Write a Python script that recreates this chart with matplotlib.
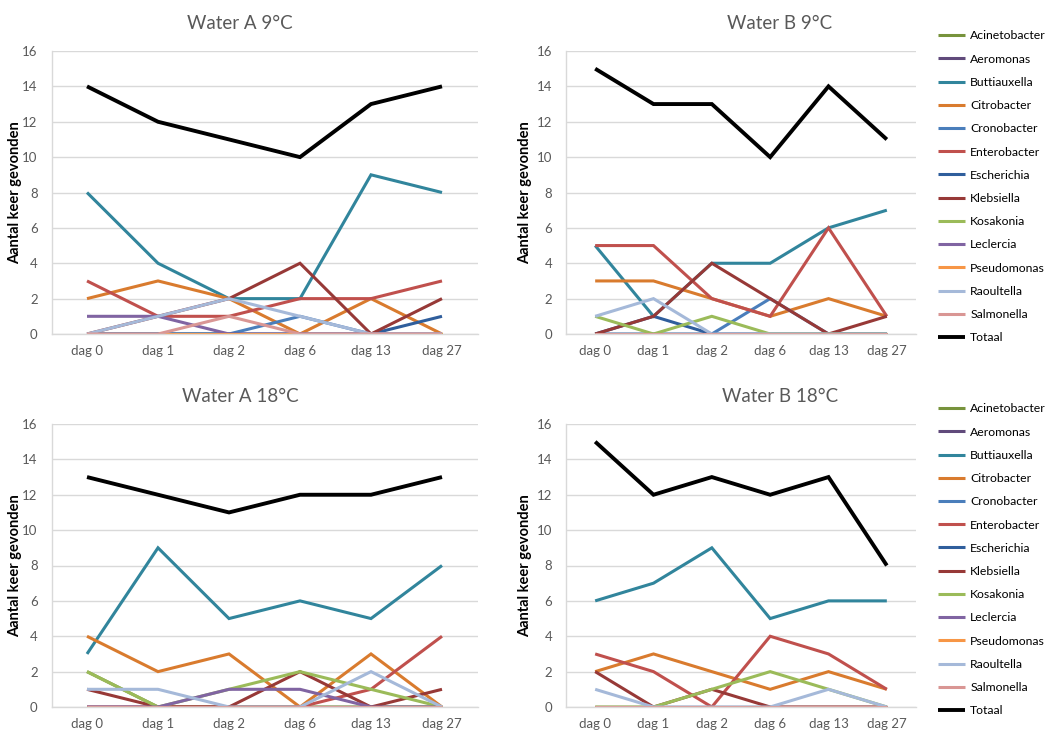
import matplotlib.pyplot as plt

plt.rcParams['font.family'] = ['Lato', 'DejaVu Sans']

days = ["dag 0", "dag 1", "dag 2", "dag 6", "dag 13", "dag 27"]

species = ["Acinetobacter", "Aeromonas", "Buttiauxella", "Citrobacter",
           "Cronobacter", "Enterobacter", "Escherichia", "Klebsiella",
           "Kosakonia", "Leclercia", "Pseudomonas", "Raoultella",
           "Salmonella", "Totaal"]

colors = ["#77933C", "#604A7B", "#31859C", "#D97B2E", "#4A7EBB", "#C0504D",
          "#2F5E9C", "#973937", "#9BBB59", "#8064A2", "#F79646", "#A5B9D9",
          "#D99694", "#000000"]

# counts per species (same order as `species`), one row per species
water_a_9 = [
    [0, 0, 0, 0, 0, 0],
    [0, 0, 0, 0, 0, 0],
    [8, 4, 2, 2, 9, 8],
    [2, 3, 2, 0, 2, 0],
    [0, 0, 0, 1, 0, 0],
    [3, 1, 1, 2, 2, 3],
    [0, 0, 0, 0, 0, 1],
    [0, 1, 2, 4, 0, 2],
    [0, 0, 0, 0, 0, 0],
    [1, 1, 0, 0, 0, 0],
    [0, 0, 0, 0, 0, 0],
    [0, 1, 2, 1, 0, 0],
    [0, 0, 1, 0, 0, 0],
    [14, 12, 11, 10, 13, 14],
]

water_b_9 = [
    [0, 0, 0, 0, 0, 0],
    [0, 0, 0, 0, 0, 0],
    [5, 1, 4, 4, 6, 7],
    [3, 3, 2, 1, 2, 1],
    [0, 0, 0, 2, 0, 0],
    [5, 5, 2, 1, 6, 1],
    [0, 1, 0, 0, 0, 0],
    [0, 1, 4, 2, 0, 1],
    [1, 0, 1, 0, 0, 0],
    [0, 0, 0, 0, 0, 0],
    [0, 0, 0, 0, 0, 0],
    [1, 2, 0, 0, 0, 0],
    [0, 0, 0, 0, 0, 0],
    [15, 13, 13, 10, 14, 11],
]

water_a_18 = [
    [2, 0, 0, 0, 0, 0],
    [0, 0, 0, 0, 0, 0],
    [3, 9, 5, 6, 5, 8],
    [4, 2, 3, 0, 3, 0],
    [0, 0, 0, 0, 0, 0],
    [0, 0, 0, 0, 1, 4],
    [0, 0, 0, 0, 0, 0],
    [1, 0, 0, 2, 0, 1],
    [2, 0, 1, 2, 1, 0],
    [0, 0, 1, 1, 0, 0],
    [0, 0, 0, 0, 0, 0],
    [1, 1, 0, 0, 2, 0],
    [0, 0, 0, 0, 0, 0],
    [13, 12, 11, 12, 12, 13],
]

water_b_18 = [
    [0, 0, 0, 0, 0, 0],
    [0, 0, 0, 0, 0, 0],
    [6, 7, 9, 5, 6, 6],
    [2, 3, 2, 1, 2, 1],
    [0, 0, 0, 0, 0, 0],
    [3, 2, 0, 4, 3, 1],
    [0, 0, 0, 0, 0, 0],
    [2, 0, 1, 0, 0, 0],
    [0, 0, 1, 2, 1, 0],
    [0, 0, 0, 0, 0, 0],
    [0, 0, 0, 0, 0, 0],
    [1, 0, 0, 0, 1, 0],
    [0, 0, 0, 0, 0, 0],
    [15, 12, 13, 12, 13, 8],
]

W, H = 1048, 731
fig = plt.figure(figsize=(W / 100, H / 100), dpi=100)


def px_axes(left, top, right, bottom):
    return fig.add_axes([left / W, 1 - bottom / H, (right - left) / W, (bottom - top) / H])


def draw_panel(ax, data, title, title_x, label_x, legend=False):
    x = range(len(days))
    for name, col, vals in zip(species, colors, data):
        lw = 2.8 if name == "Totaal" else 2.2
        ax.plot(x, vals, color=col, lw=lw, label=name, solid_joinstyle='miter',
                solid_capstyle='butt')
    ax.set_xlim(-0.5, len(days) - 0.5)
    ax.set_ylim(0, 16)
    ax.set_yticks(range(0, 17, 2))
    ax.set_xticks(list(x))
    ax.set_xticklabels(days)
    ax.tick_params(length=0, labelsize=9.5, labelcolor="#595959", pad=8)
    ax.tick_params(axis='y', pad=10)
    ax.grid(axis='y', color="#D9D9D9", lw=1)
    ax.set_axisbelow(True)
    for side in ["top", "right"]:
        ax.spines[side].set_visible(False)
    for side in ["left", "bottom"]:
        ax.spines[side].set_color("#D9D9D9")
        ax.spines[side].set_linewidth(1)
    ax.set_ylabel("Aantal keer gevonden", fontsize=10.5, fontweight='bold')
    ax.yaxis.set_label_coords(label_x, 0.5)
    ax.set_title(title, fontsize=13.5, color="#595959", pad=16, x=title_x)
    if legend:
        ax.legend(loc="upper left", bbox_to_anchor=(1.05, 1.09), frameon=False,
                  fontsize=8.8, handlelength=2.2, handletextpad=0.4,
                  labelspacing=1.0, borderaxespad=0)


ax1 = px_axes(51.5, 51, 477.5, 334)
draw_panel(ax1, water_a_9, "Water A 9°C", 0.4425, -0.068)
ax2 = px_axes(566, 51, 916, 334)
draw_panel(ax2, water_b_9, "Water B 9°C", 0.611, -0.096, legend=True)
ax3 = px_axes(51.5, 424, 477.5, 707)
draw_panel(ax3, water_a_18, "Water A 18°C", 0.4425, -0.068)
ax4 = px_axes(566, 424, 916, 707)
draw_panel(ax4, water_b_18, "Water B 18°C", 0.611, -0.096, legend=True)

fig.savefig("out.png", dpi=100)
